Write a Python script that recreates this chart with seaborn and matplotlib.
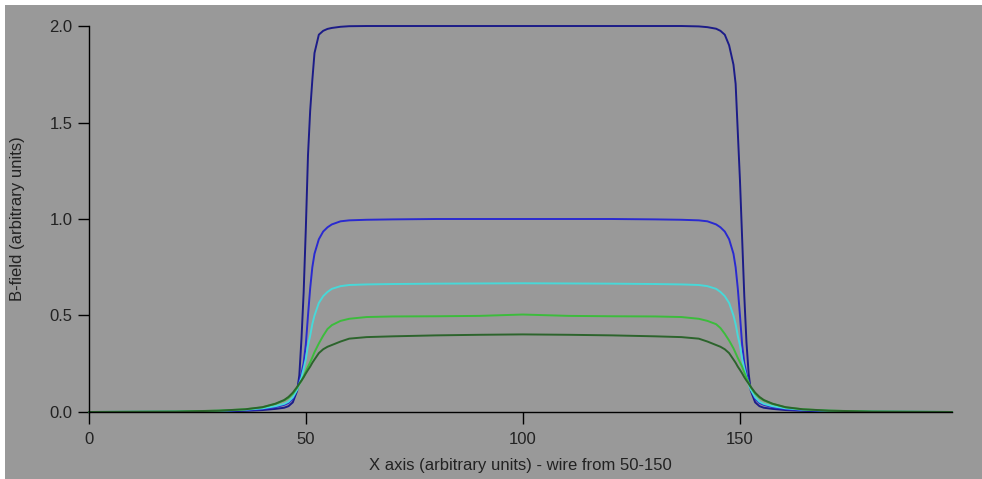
import numpy as np
import pandas as pd
import matplotlib
matplotlib.use("Agg")
import matplotlib.pyplot as plt
import seaborn as sns
from matplotlib.patches import Rectangle

# === Data (x in arbitrary units) ===
x_pos = [0, 20, 30, 36, 40, 43, 45, 46, 47, 48, 48.5, 49, 49.5, 50, 50.5, 51, 51.5, 52,
         53, 54, 55, 56, 58, 60, 64, 70, 80, 90, 100,
         110.6, 120.6, 130.6, 136.6, 140.6, 142.6, 144.6, 145.6, 146.6, 147.6, 148.6,
         149.1, 149.6, 150.1, 150.6, 151.1, 151.6, 152.1, 152.6, 153.6, 154.6, 155.6,
         157.6, 160.6, 164.6, 170.6, 180.6, 199]

b_navy = [0, 0, 0.002, 0.006, 0.010, 0.016, 0.022, 0.030, 0.050, 0.110, 0.190, 0.380, 0.620,
          0.950, 1.330, 1.560, 1.720, 1.860, 1.955, 1.975, 1.985, 1.990, 1.996, 1.999, 2.0,
          2.0, 2.0, 2.0, 2.0,
          2.0, 2.0, 2.0, 2.0, 1.998, 1.994, 1.986, 1.975, 1.955, 1.900, 1.800,
          1.700, 1.450, 1.200, 0.900, 0.600, 0.360, 0.200, 0.110, 0.050, 0.030, 0.022,
          0.016, 0.010, 0.006, 0.002, 0, 0]

b_blue = [0, 0.001, 0.004, 0.009, 0.015, 0.025, 0.037, 0.047, 0.068, 0.120, 0.157, 0.200, 0.254,
          0.350, 0.500, 0.640, 0.750, 0.820, 0.895, 0.935, 0.957, 0.972, 0.988, 0.993, 0.996,
          0.998, 1.0, 1.0, 1.0,
          1.0, 1.0, 0.998, 0.996, 0.993, 0.988, 0.972, 0.957, 0.935, 0.895, 0.820,
          0.750, 0.640, 0.500, 0.350, 0.254, 0.200, 0.157, 0.120, 0.068, 0.047, 0.037,
          0.025, 0.015, 0.009, 0.004, 0.001, 0]

b_cyan = [0, 0.002, 0.006, 0.012, 0.019, 0.030, 0.042, 0.053, 0.076, 0.115, 0.145, 0.180, 0.225,
          0.275, 0.345, 0.395, 0.455, 0.500, 0.565, 0.600, 0.622, 0.638, 0.652, 0.658, 0.661,
          0.663, 0.665, 0.666, 0.667,
          0.666, 0.665, 0.663, 0.661, 0.658, 0.652, 0.638, 0.622, 0.600, 0.565, 0.500,
          0.455, 0.395, 0.345, 0.275, 0.225, 0.180, 0.145, 0.115, 0.076, 0.053, 0.042,
          0.030, 0.019, 0.012, 0.006, 0.002, 0]

b_green = [0, 0.002, 0.007, 0.014, 0.024, 0.042, 0.060, 0.073, 0.094, 0.125, 0.145, 0.162, 0.185,
           0.210, 0.235, 0.257, 0.283, 0.310, 0.355, 0.395, 0.430, 0.450, 0.472, 0.483, 0.492,
           0.495, 0.496, 0.498, 0.505,
           0.498, 0.496, 0.495, 0.492, 0.483, 0.472, 0.455, 0.435, 0.405, 0.370, 0.330,
           0.305, 0.280, 0.258, 0.235, 0.205, 0.178, 0.152, 0.128, 0.095, 0.074, 0.060,
           0.042, 0.024, 0.014, 0.007, 0.002, 0]

b_dkgreen = [0, 0.002, 0.007, 0.014, 0.025, 0.043, 0.062, 0.078, 0.100, 0.130, 0.147, 0.163, 0.180,
             0.200, 0.218, 0.235, 0.255, 0.272, 0.305, 0.325, 0.338, 0.347, 0.365, 0.380, 0.388,
             0.392, 0.397, 0.400, 0.402,
             0.400, 0.397, 0.392, 0.388, 0.380, 0.365, 0.347, 0.338, 0.325, 0.305, 0.272,
             0.255, 0.235, 0.218, 0.200, 0.180, 0.163, 0.147, 0.130, 0.100, 0.078, 0.062,
             0.043, 0.025, 0.014, 0.007, 0.002, 0]

curve_names = ["n1", "n2", "n3", "n4", "n5"]
curve_colors = ["#1c1c88", "#2a2ad0", "#48d8d8", "#3cbc3c", "#2c642c"]

y_ticks = [0.0, 0.5, 1.0, 1.5, 2.0]
x_ticks = [0, 50, 100, 150]

# === Long-form table for seaborn ===
frames = []
for name, vals in zip(curve_names, [b_navy, b_blue, b_cyan, b_green, b_dkgreen]):
    frames.append(pd.DataFrame({"x": x_pos, "B": vals, "curve": name}))
df = pd.concat(frames, ignore_index=True)

sns.set_theme(style="ticks")
plt.rcParams['font.family'] = ['Liberation Sans', 'DejaVu Sans']

bg = "#999999"
fig = plt.figure(figsize=(9.82, 4.79), dpi=100, facecolor=bg, edgecolor=bg)
ax = fig.add_axes([0.0906, 0.1399, 0.8789, 0.8058])
ax.set_facecolor(bg)

# thin white strip at the top and left edge of the picture
fig.patches.append(Rectangle((0, 1 - 5 / 479), 1, 5 / 479, transform=fig.transFigure,
                             facecolor="white", edgecolor="none", zorder=0))
fig.patches.append(Rectangle((0, 0), 5 / 982, 1, transform=fig.transFigure,
                             facecolor="white", edgecolor="none", zorder=0))

sns.lineplot(data=df, x="x", y="B", hue="curve", palette=curve_colors,
             estimator=None, sort=False, legend=False, linewidth=1.4, ax=ax)
for line in ax.get_lines():
    line.set_clip_on(False)

ax.set_xlim(0, 199)
ax.set_ylim(0, 2.0)
ax.set_xticks(x_ticks)
ax.set_xticklabels([str(t) for t in x_ticks])
ax.set_yticks(y_ticks)
ax.set_yticklabels([f"{t:.1f}" for t in y_ticks])

for side in ["top", "right"]:
    ax.spines[side].set_visible(False)
for side in ["left", "bottom"]:
    ax.spines[side].set_color("black")
    ax.spines[side].set_linewidth(1.0)

txt = "#222222"
ax.tick_params(axis="y", direction="out", length=8, width=1, color="black",
               labelsize=12, labelcolor=txt, pad=4)
ax.tick_params(axis="x", direction="out", length=8.5, width=1, color="black",
               labelsize=12, labelcolor=txt, pad=6)

ax.set_xlabel("X axis (arbitrary units) - wire from 50-150", fontsize=12, color=txt)
ax.set_ylabel("B-field (arbitrary units)", fontsize=12, color=txt)
ax.xaxis.set_label_coords(0.5, -0.12)
ax.yaxis.set_label_coords(-0.074, 0.5)

fig.savefig("out.png", dpi=100, facecolor=bg, edgecolor=bg)
